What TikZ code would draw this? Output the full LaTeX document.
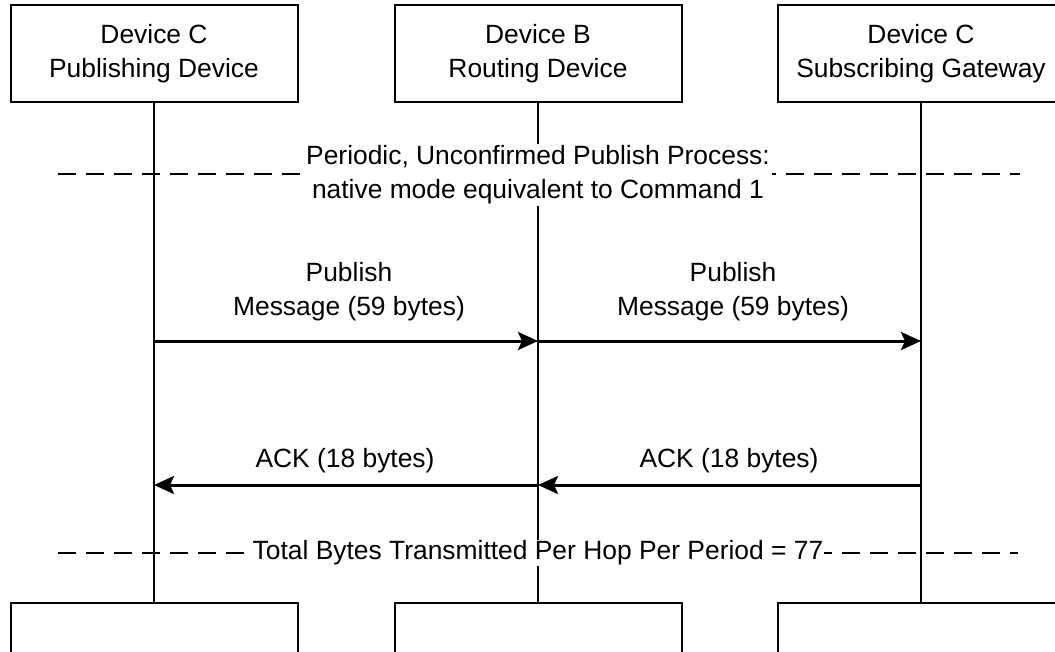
\documentclass[tikz,border=0pt]{standalone}
\usepackage{fontspec}
\setmainfont{Liberation Sans}
\usetikzlibrary{arrows.meta}
\begin{document}
\begin{tikzpicture}[x=1pt,y=-1pt,
  dev/.style={draw,line width=2pt,minimum width=287pt,minimum height=97pt,align=center,inner sep=0pt,font=\fontsize{26.4}{34}\selectfont},
  life/.style={line width=2pt},
  msg/.style={line width=3pt,-{Stealth[length=20pt,width=18pt,inset=4pt]}},
  lbl/.style={align=center,font=\fontsize{26.4}{34}\selectfont,inner sep=0pt},
  sep/.style={line width=1.5pt,dash pattern=on 18pt off 10pt},
  sepl/.style={fill=white,align=center,font=\fontsize{26.4}{34}\selectfont,inner sep=2pt}]
\useasboundingbox (0,0) rectangle (1055,651);
\fill[white] (0,0) rectangle (1055,651);
% top boxes
\node[dev] (ta) at (154,53.5) {Device C\\Publishing Device};
\node[dev] (tb) at (538,53.5) {Device B\\Routing Device};
\node[dev] (tc) at (921,53.5) {Device C\\Subscribing Gateway};
% bottom boxes
\node[dev] (ba) at (154,651.5) {};
\node[dev] (bb) at (538,651.5) {};
\node[dev] (bc) at (921,651.5) {};
% lifelines
\draw[life] (ta.south) -- (ba.north);
\draw[life] (tb.south) -- (bb.north);
\draw[life] (tc.south) -- (bc.north);
% separators
\coordinate (s1l) at (58,174);
\coordinate (s1r) at (1020,174);
\draw[sep] (s1l) -- (s1r);
\node[sepl] (s1t) at (538,175) {Periodic, Unconfirmed Publish Process:\\native mode equivalent to Command 1};
\coordinate (s2l) at (58,553);
\coordinate (s2r) at (1018,553);
\draw[sep] (s2l) -- (s2r);
\node[sepl,inner sep=1pt] (s2t) at (538,553) {Total Bytes Transmitted Per Hop Per Period = 77};
% message coordinates
\coordinate (pa) at (154,341);
\coordinate (pb) at (538,341);
\coordinate (pc) at (921,341);
\coordinate (ka) at (154,485);
\coordinate (kb) at (538,485);
\coordinate (kc) at (921,485);
\draw[msg] (pa) -- (pb);
\draw[msg] (pb) -- (pc);
\draw[msg] (kc) -- (kb);
\draw[msg] (kb) -- (ka);
\node[lbl] (l1) at (349,292) {Publish\\Message (59 bytes)};
\node[lbl] (l2) at (733,292) {Publish\\Message (59 bytes)};
\node[lbl] (l3) at (345,461) {ACK (18 bytes)};
\node[lbl] (l4) at (729,461) {ACK (18 bytes)};
\end{tikzpicture}
\end{document}
